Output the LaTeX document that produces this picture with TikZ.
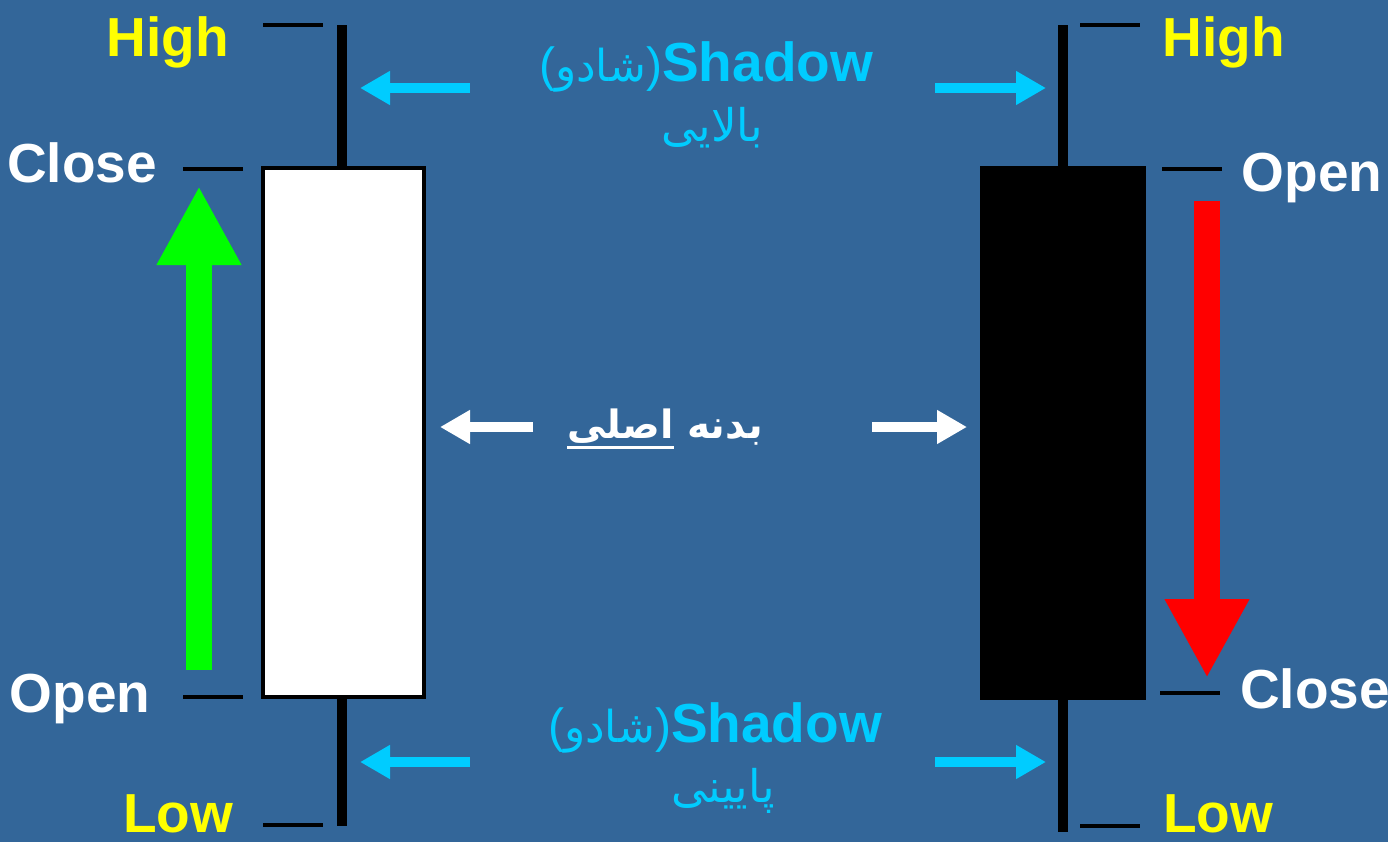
\documentclass[tikz,border=0pt]{standalone}
\usepackage{fontspec}
\setmainfont{Liberation Sans}
\newfontfamily\fafont[Script=Arabic]{DejaVu Sans}
\TeXXeTstate=1
\usetikzlibrary{arrows.meta}

\definecolor{slide}{RGB}{51,102,153}
\definecolor{shadowc}{RGB}{0,204,255}
\definecolor{upc}{RGB}{0,255,0}
\definecolor{downc}{RGB}{255,0,0}
\definecolor{highc}{RGB}{255,255,0}

% underline with a heavier rule
\newcommand\faul[1]{\leavevmode\vtop{\hbox{#1}\kern3pt\hrule height 3pt}}
% persian word in brackets, brackets kept in the latin font
\newcommand\shadowfa{{\mdseries\fontsize{48}{52}\selectfont(}{\fafont\mdseries\fontsize{44}{52}\selectfont شادو}{\mdseries\fontsize{48}{52}\selectfont)}}

\begin{document}
\begin{tikzpicture}[x=1pt,y=-1pt,
    lbl/.style={font=\fontsize{55}{60}\selectfont\bfseries,inner sep=0pt,anchor=base},
    fa/.style={font=\fafont\fontsize{45}{52}\selectfont,inner sep=0pt,anchor=base},
    tick/.style={line width=4pt},
    wick/.style={line width=10pt},
    pointer/.style={line width=10pt,-{Triangle[length=30pt,width=32pt]}},
    bigarrow/.style={line width=26pt,-{Triangle[length=79pt,width=79pt]}}]
  % background
  \fill[slide] (0,0) rectangle (1388,842);
  \useasboundingbox (0,0) rectangle (1388,842);

  % white candle (left)
  \node[draw=black,fill=white,line width=4pt,inner sep=0pt,minimum width=161,minimum height=529] (wbody) at (343.5,432.5) {};
  \coordinate (wtop) at (342,25);
  \coordinate (wbot) at (342,826);
  \draw[wick] (wbody.north -| wtop) -- (wtop);
  \draw[wick] (wbody.south -| wbot) -- (wbot);
  \draw[tick] (263,25) -- (323,25);
  \draw[tick] (183,169) -- (243,169);
  \draw[tick] (183,697) -- (243,697);
  \draw[tick] (263,825) -- (323,825);
  \node[lbl,highc] (whigh) at (168,57) {High};
  \node[lbl,white] (wclose) at (82,183) {Close};
  \node[lbl,white] (wopen) at (80,712) {Open};
  \node[lbl,highc] (wlow) at (178,832) {Low};
  \coordinate (upfrom) at (199,670);
  \coordinate (upto) at (199,186);
  \draw[bigarrow,upc] (upfrom) -- (upto);

  % black candle (right)
  \node[fill=black,inner sep=0pt,minimum width=166,minimum height=534] (bbody) at (1063,433) {};
  \coordinate (btop) at (1063,25);
  \coordinate (bbot) at (1063,832);
  \draw[wick] (bbody.north -| btop) -- (btop);
  \draw[wick] (bbody.south -| bbot) -- (bbot);
  \draw[tick] (1080,25) -- (1140,25);
  \draw[tick] (1162,169) -- (1222,169);
  \draw[tick] (1160,693) -- (1220,693);
  \draw[tick] (1080,826) -- (1140,826);
  \node[lbl,highc] (bhigh) at (1224,57) {High};
  \node[lbl,white] (bopen) at (1312,192) {Open};
  \node[lbl,white] (bclose) at (1315,708) {Close};
  \node[lbl,highc] (blow) at (1218,832) {Low};
  \coordinate (downfrom) at (1207,201);
  \coordinate (downto) at (1207,678);
  \draw[bigarrow,downc] (downfrom) -- (downto);

  % shadow labels
  \node[lbl,shadowc] (upsh) at (706,82) {\shadowfa Shadow};
  \node[fa,shadowc] (upfa) at (712,142) {\beginR بالایی\endR};
  \node[lbl,shadowc] (lowsh) at (715,742) {\shadowfa Shadow};
  \node[fa,shadowc] (lowfa) at (723,802) {\beginR پایینی\endR};
  \coordinate (ul1) at (470,88);  \coordinate (ul2) at (360,88);
  \coordinate (ur1) at (935,88);  \coordinate (ur2) at (1046,88);
  \coordinate (ll1) at (470,762); \coordinate (ll2) at (360,762);
  \coordinate (lr1) at (935,762); \coordinate (lr2) at (1046,762);
  \draw[pointer,shadowc] (ul1) -- (ul2);
  \draw[pointer,shadowc] (ur1) -- (ur2);
  \draw[pointer,shadowc] (ll1) -- (ll2);
  \draw[pointer,shadowc] (lr1) -- (lr2);

  % real body label
  \node[fa,white,font=\fafont\bfseries\fontsize{39}{46}\selectfont] (mid) at (665,438) {\beginR بدنه \faul{اصلی}\endR};
  \coordinate (ml1) at (533,427); \coordinate (ml2) at (440,427);
  \coordinate (mr1) at (872,427); \coordinate (mr2) at (967,427);
  \draw[pointer,white] (ml1) -- (ml2);
  \draw[pointer,white] (mr1) -- (mr2);
\end{tikzpicture}
\end{document}
